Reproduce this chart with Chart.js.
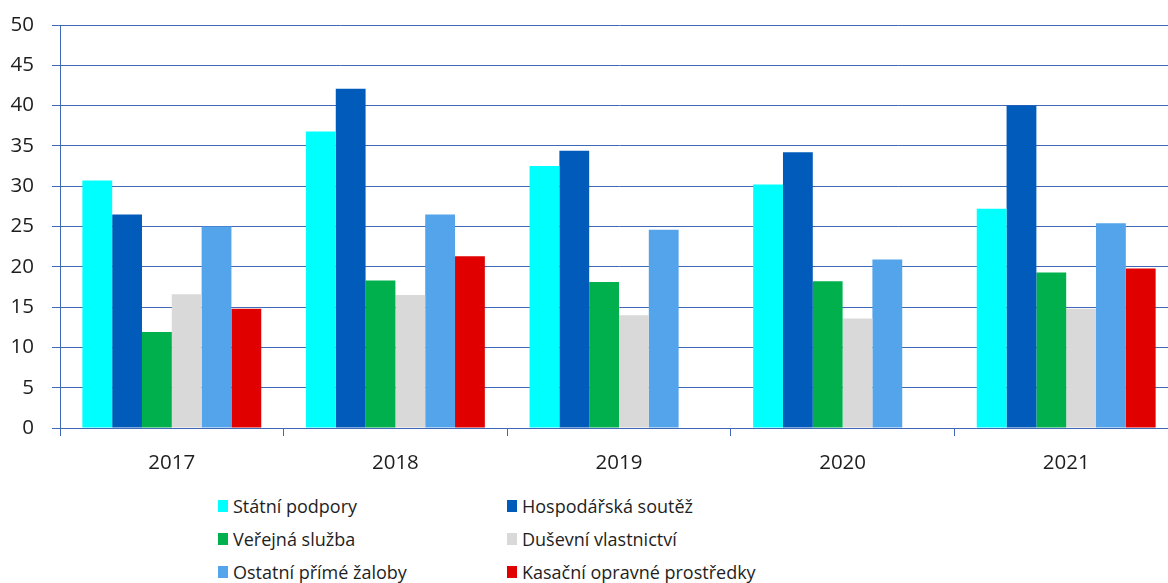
<!DOCTYPE html>
<html>
<head>
<meta charset="utf-8">
<script src="https://cdn.jsdelivr.net/npm/chart.js@4"></script>
<style>
  body { margin: 0; background: #fff; font-family: "Open Sans", "Noto Sans", sans-serif; overflow: hidden; }
  .wrap { position: relative; width: 1168px; height: 583px; overflow: hidden; }
  #chart { position: absolute; left: 0; top: 0; }
  .legend { position: absolute; left: 218px; top: 493px; display: grid;
    grid-template-columns: 289px 320px; row-gap: 8px; }
  .legend div { display: flex; align-items: center; font-size: 18px; color: #1e1e1e; height: 25px; }
  .legend span { display: inline-block; width: 10px; height: 12px; margin-right: 5px; }
</style>
</head>
<body>
<div class="wrap">
  <canvas id="chart" width="1178" height="480"></canvas>
  <div class="legend" id="legend"></div>
</div>
<script>
var years = ['2017', '2018', '2019', '2020', '2021']
var statniPodpory = [30.7, 36.8, 32.5, 30.2, 27.2]
var hospodarskaSoutez = [26.5, 42.1, 34.4, 34.2, 40.0]
var verejnaSluzba = [11.9, 18.3, 18.1, 18.2, 19.3]
var dusevniVlastnictvi = [16.6, 16.5, 14.0, 13.6, 14.8]
var ostatniPrimeZaloby = [25.0, 26.5, 24.6, 20.9, 25.4]
var kasacniProstredky = [14.8, 21.3, null, null, 19.8]
var yTicks = [0, 5, 10, 15, 20, 25, 30, 35, 40, 45, 50]

var gridBlue = '#3f68b6'
var font = { family: '"Open Sans", "Noto Sans", sans-serif', size: 20.5 }

function ds(label, data, color) {
  return { label: label, data: data, backgroundColor: color, borderWidth: 0,
    barPercentage: 1, categoryPercentage: 0.8 }
}

var chart = new Chart(document.getElementById('chart').getContext('2d'), {
  type: 'bar',
  data: {
    labels: years,
    datasets: [
      ds('Státní podpory', statniPodpory, '#00ffff'),
      ds('Hospodářská soutěž', hospodarskaSoutez, '#005bbb'),
      ds('Veřejná služba', verejnaSluzba, '#00b04c'),
      ds('Duševní vlastnictví', dusevniVlastnictvi, '#d9d9d9'),
      ds('Ostatní přímé žaloby', ostatniPrimeZaloby, '#53a4ea'),
      ds('Kasační opravné prostředky', kasacniProstredky, '#e00000')
    ]
  },
  options: {
    responsive: false,
    animation: false,
    layout: { padding: { top: 25, right: 0, left: 0, bottom: 0 } },
    plugins: { legend: { display: false }, tooltip: { enabled: false } },
    scales: {
      x: {
        offset: true,
        border: { color: gridBlue, width: 1 },
        grid: { offset: true, drawOnChartArea: false, drawTicks: true, tickLength: 8, color: gridBlue },
        ticks: { color: '#1e1e1e', font: font, padding: 15 },
        afterFit: function(scale) { scale.height = 52 }
      },
      y: {
        min: 0, max: 50,
        border: { color: gridBlue, width: 1 },
        grid: { color: gridBlue, tickLength: 8, drawTicks: true },
        ticks: { stepSize: 5, color: '#1e1e1e', font: font, padding: 18 },
        afterBuildTicks: function(scale) { scale.ticks = yTicks.map(function(v) { return { value: v } }) },
        afterFit: function(scale) { scale.width = 60; scale.paddingTop = 0; scale.paddingBottom = 0 }
      }
    }
  }
})

var legend = document.getElementById('legend')
chart.data.datasets.forEach(function(d) {
  var item = document.createElement('div')
  var box = document.createElement('span')
  box.style.background = d.backgroundColor
  item.appendChild(box)
  item.appendChild(document.createTextNode(d.label))
  legend.appendChild(item)
})
</script>
</body>
</html>
